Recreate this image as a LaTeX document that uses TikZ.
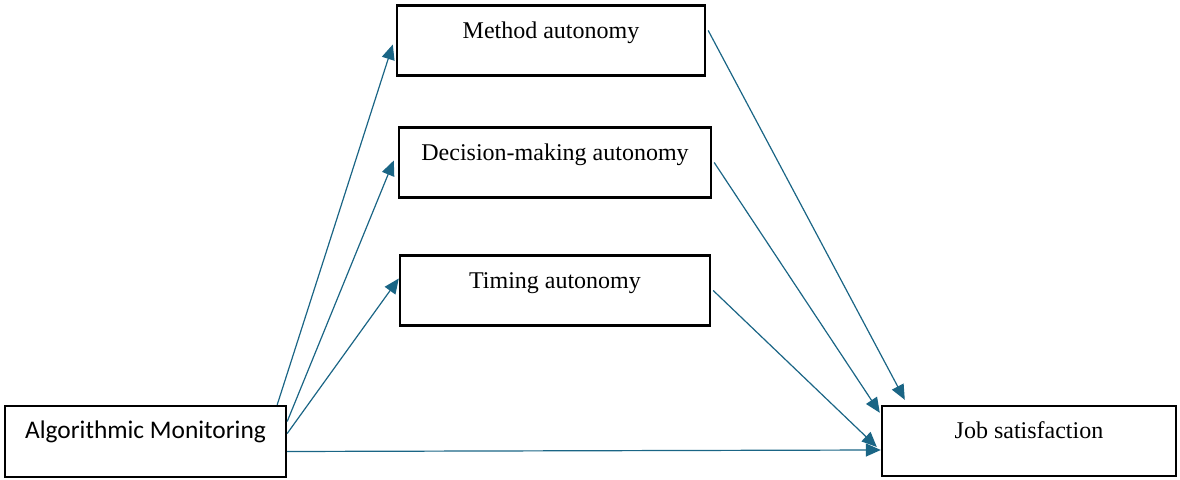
\documentclass[tikz,border=0pt]{standalone}
\usepackage{fontspec}
\setmainfont{Liberation Serif}
\newfontfamily\amfont{Carlito}
\usetikzlibrary{arrows.meta}
\definecolor{linkblue}{HTML}{1A6585}

\begin{document}
\begin{tikzpicture}[x=0.5pt,y=-0.5pt,
    box/.style={draw,line width=1.2pt,inner sep=0pt,text height=16.5pt,text depth=18.5pt,
      font=\fontsize{12}{14}\selectfont},
    link/.style={draw=linkblue,line width=0.6pt,-{Triangle[length=7.5pt,width=6.5pt]},linkblue}]
      \useasboundingbox (0,0) rectangle (1180,480);
      \node[box,minimum width=140.5pt,text depth=19pt,font=\amfont\fontsize{12.7}{15}\selectfont] (am) at (145.5,441.5) {Algorithmic Monitoring};
      \node[box,minimum width=154pt] (meth) at (551,40.5) {Method autonomy};
      \node[box,minimum width=156pt] (dec) at (555,162.5) {Decision-making autonomy};
      \node[box,minimum width=155pt] (tim) at (555,290.5) {Timing autonomy};
      \node[box,minimum width=147pt] (job) at (1029,441) {Job satisfaction};
      % from monitoring to the three autonomies
      \draw[link] ([xshift=-5pt]am.north east) -- ([xshift=-1.5pt,yshift=-2pt]meth.west);
      \draw[link] ([yshift=10pt]am.east) -- ([xshift=-2pt,yshift=1pt]dec.west);
      \draw[link] ([yshift=4pt]am.east) -- ([yshift=6pt]tim.west);
      \draw[link] ([yshift=-5pt]am.east) -- ([yshift=-4.5pt]job.west);
      % from the autonomies to satisfaction
      \draw[link] ([xshift=1pt,yshift=5pt]meth.east) -- ([xshift=12pt,yshift=2.5pt]job.north west);
      \draw[link] ([xshift=1pt]dec.east) -- ([xshift=-0.5pt,yshift=-4pt]job.north west);
      \draw[link] ([xshift=1pt]tim.east) -- ([xshift=-2pt,yshift=-3pt]job.west);
    \end{tikzpicture}
\end{document}
